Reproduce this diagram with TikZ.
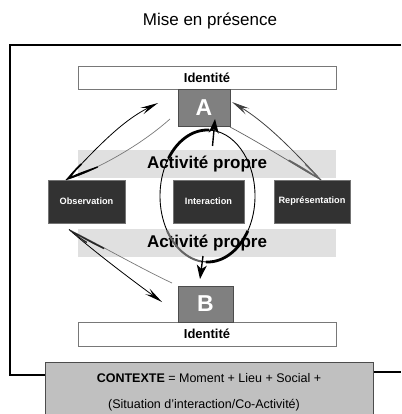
\documentclass[tikz,border=0pt]{standalone}
\usepackage{fontspec}
\setmainfont{Liberation Sans}
\usetikzlibrary{arrows.meta}
\definecolor{bandgray}{RGB}{224,224,224}
\definecolor{darkbox}{RGB}{50,50,50}
\definecolor{midbox}{RGB}{128,128,128}
\definecolor{ctxgray}{RGB}{192,192,192}
\definecolor{swgray}{RGB}{100,100,100}
\definecolor{lightline}{RGB}{120,120,120}
\tikzset{
  idbox/.style={draw=lightline, fill=white, minimum width=258pt, minimum height=23pt, inner sep=0pt, font=\bfseries\fontsize{13}{15}\selectfont},
  letterbox/.style={draw=black!70, fill=midbox, inner sep=0pt, text=white, font=\bfseries\fontsize{23}{26}\selectfont},
  band/.style={fill=bandgray, minimum width=258pt, minimum height=28pt, inner sep=0pt, font=\bfseries\fontsize{17}{19}\selectfont},
  actbox/.style={draw=black!55, fill=darkbox, minimum height=43pt, inner sep=0pt, text=white, font=\bfseries\fontsize{9.2}{11}\selectfont},
  ctxbox/.style={draw=black!70, fill=ctxgray, minimum width=328pt, minimum height=60pt, inner sep=0pt},
  ctxtext/.style={font=\fontsize{12.5}{14}\selectfont, inner sep=0pt},
  swarrow/.style={line width=0.8pt, -{Stealth[length=18pt,width=7pt,inset=7pt]}},
  thinsw/.style={line width=0.7pt},
  frame/.style={line width=1.8pt},
}
\begin{document}
\begin{tikzpicture}[x=1pt,y=-1pt]
\useasboundingbox (0,0) rectangle (401,414);
\node[font=\fontsize{17}{20}\selectfont] (title) at (210,21) {Mise en présence};
% outer frame
\draw[frame] (401,45) -- (10,45) -- (10,375) -- (45,375);
\draw[line width=1.3pt] (373,372) -- (401,372);
% context box
\node[ctxbox] (ctx) at (209,392) {};
\node[ctxtext] (ctx1) at (209,378) {\textbf{CONTEXTE} = Moment + Lieu + Social +};
\node[ctxtext] (ctx2) at (204,405) {(Situation d’interaction/Co-Activité)};
% bands
\node[band] (band1) at (207,164) {Activité propre};
\node[band] (band2) at (207,243) {Activité propre};
% identity boxes
\node[idbox] (id1) at (207,77.5) {Identité};
\node[idbox, minimum height=24pt] (id2) at (207,334) {Identité};
% ellipse
\coordinate (ec) at (207.5,196);
\draw[line width=0.9pt] (ec) ellipse [x radius=47.5, y radius=66];
\draw[line width=2.8pt] plot[domain=145:88, smooth, variable=\t] ({207.5+47.5*cos(\t)},{196-66*sin(\t)});
\draw[line width=2.8pt] plot[domain=-32:-92, smooth, variable=\t] ({207.5+47.5*cos(\t)},{196-66*sin(\t)});
\draw[line width=2pt, swgray] plot[domain=212:262, smooth, variable=\t] ({207.5+47.5*cos(\t)},{196-66*sin(\t)});
% activity boxes
\node[actbox, minimum width=77pt] (obs) at (86.5,201.5) {Observation};
\node[actbox, minimum width=71pt] (inter) at (208.5,201.5) {Interaction};
\node[actbox, minimum width=76pt] (rep) at (312,201.5) {Représentation};
% A and B
\node[letterbox, minimum width=52pt, minimum height=37pt] (A) at (204,107.5) {A};
\node[letterbox, minimum width=55pt, minimum height=36pt] (B) at (205.5,304) {B};
% ellipse arrows
\coordinate (ta0) at (212.5,146);
\coordinate (ta1) at (215,119);
\draw[line width=1.4pt, -{Stealth[length=14pt,width=10pt,inset=4pt]}] (ta0) -- (ta1);
\coordinate (ba0) at (203,256);
\coordinate (ba1) at (200,279);
\draw[line width=1.4pt, -{Stealth[length=14pt,width=10pt,inset=4pt]}] (ba0) -- (ba1);
% swoosh top-left (Observation -> A)
\coordinate (tlT) at (66,180);
\coordinate (tlG) at (170,119);
\coordinate (tlH) at (158,103);
\draw[thinsw, lightline] (tlT) .. controls (90,172) and (135,150) .. (tlG);
\draw[swarrow, black] (tlT) .. controls (95,150) and (120,122) .. (tlH);
\fill[black] (tlT) .. controls (75,177.5) and (86,173) .. (98,167.5) -- (97.5,166.3) .. controls (86,170.5) and (77,173.5) .. (71.5,176.5) .. controls (74,172.5) and (78,168.5) .. (82,164.5) -- (80.5,163.5) .. controls (75,169) and (70,174.5) .. (tlT) -- cycle;
% swoosh top-right (Representation -> A)
\coordinate (trT) at (321,180);
\coordinate (trG) at (230,127);
\coordinate (trH) at (232,102);
\draw[thinsw, swgray] (trT) .. controls (290,162) and (260,143) .. (trG);
\draw[swarrow, black!75] (trT) .. controls (300,158) and (270,125) .. (trH);
\fill[swgray] (trT) .. controls (311,175) and (299,167.5) .. (288.1,161) -- (289,159.5) .. controls (299,165) and (309,171) .. (316.2,176.4) .. controls (313,173) and (309,168.5) .. (304.9,164.8) -- (306.3,163.8) .. controls (311,169) and (317,175) .. (trT) -- cycle;
% swoosh bottom-left (Observation -> B)
\coordinate (blT) at (69,229.5);
\coordinate (blG) at (172,283);
\coordinate (blH) at (162,302);
\draw[thinsw, lightline] (blT) .. controls (100,245) and (140,268) .. (blG);
\draw[swarrow, black] (blT) .. controls (90,248) and (125,275) .. (blH);
\fill[black!85] (blT) .. controls (80,235) and (92,241.5) .. (104.5,247.9) -- (103.8,249.2) .. controls (92,243.5) and (80,237) .. (74,232.7) .. controls (78,236) and (83,239.5) .. (87.2,241.9) -- (86.3,243.1) .. controls (80,238.5) and (74,234) .. (blT) -- cycle;
\end{tikzpicture}
\end{document}
